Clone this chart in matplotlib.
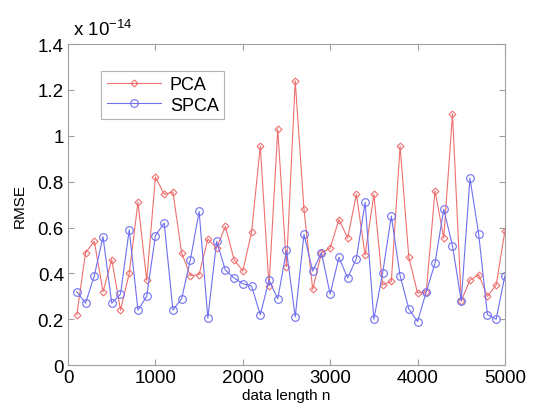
import numpy as np
import matplotlib.pyplot as plt
from matplotlib.ticker import FuncFormatter

plt.rcParams['font.family'] = ['Liberation Sans', 'DejaVu Sans']
plt.rcParams['mathtext.fontset'] = 'custom'
plt.rcParams['mathtext.rm'] = 'Liberation Sans'

# data length n
n = list(range(100, 5001, 100))

# RMSE values, in units of 1e-14
pca = [0.22, 0.49, 0.54, 0.32, 0.46, 0.24, 0.40, 0.71, 0.37, 0.82,
       0.745, 0.755, 0.49, 0.39, 0.395, 0.55, 0.51, 0.605, 0.46, 0.41,
       0.58, 0.955, 0.345, 1.03, 0.43, 1.24, 0.68, 0.33, 0.49, 0.51,
       0.635, 0.555, 0.745, 0.48, 0.745, 0.35, 0.365, 0.955, 0.47, 0.315,
       0.32, 0.76, 0.555, 1.095, 0.28, 0.37, 0.395, 0.30, 0.35, 0.585]
spca = [0.32, 0.27, 0.39, 0.56, 0.27, 0.31, 0.59, 0.24, 0.30, 0.565,
        0.62, 0.24, 0.29, 0.46, 0.67, 0.205, 0.54, 0.415, 0.38, 0.355,
        0.345, 0.22, 0.37, 0.29, 0.50, 0.21, 0.57, 0.41, 0.49, 0.31,
        0.47, 0.38, 0.465, 0.71, 0.20, 0.40, 0.65, 0.39, 0.245, 0.19,
        0.32, 0.445, 0.68, 0.52, 0.28, 0.815, 0.57, 0.22, 0.20, 0.39]
scale = 1e-14

x = np.array(n)
y_pca = np.array(pca) * scale
y_spca = np.array(spca) * scale

fig = plt.figure(figsize=(5.36, 4.10), dpi=100)
ax = fig.add_axes([0.127, 0.107, 0.815, 0.783])

ax.plot(x, y_pca, color='#f07070', lw=0.8, marker='D', ms=3.5,
        mfc='none', mec='#f07070', mew=0.8, label='PCA')
ax.plot(x, y_spca, color='#6f6ff0', lw=0.8, marker='o', ms=5.5,
        mfc='none', mec='#6f6ff0', mew=0.8, label='SPCA')

ax.set_xlim(0, 5000)
ax.set_ylim(0, 1.4e-14)
ax.set_xticks(range(0, 5001, 1000))
ax.set_yticks(np.arange(0, 1.41, 0.2) * scale)
ax.yaxis.set_major_formatter(FuncFormatter(lambda v, p: '%g' % round(v / scale, 3)))

for s in ax.spines.values():
    s.set_color('#a0a0a0')
ax.tick_params(direction='in', top=True, right=True, length=4,
               color='#a0a0a0', labelsize=13.5, pad=3)

ax.set_xlabel('data length n', fontsize=11, labelpad=1)
ax.set_ylabel('RMSE', fontsize=11, labelpad=8)
fig.text(0.127 + 0.01, 0.903, r'x 10$^{\mathregular{-14}}$', fontsize=13.5,
         ha='left', va='bottom')

leg = ax.legend(loc='upper left', bbox_to_anchor=(0.055, 0.945), fontsize=13,
                fancybox=False, edgecolor='#a0a0a0', handlelength=3.0,
                numpoints=1, borderpad=0.3, labelspacing=0.2,
                handletextpad=0.5)
leg.get_frame().set_linewidth(0.8)

plt.savefig('out.png')
plt.close()
